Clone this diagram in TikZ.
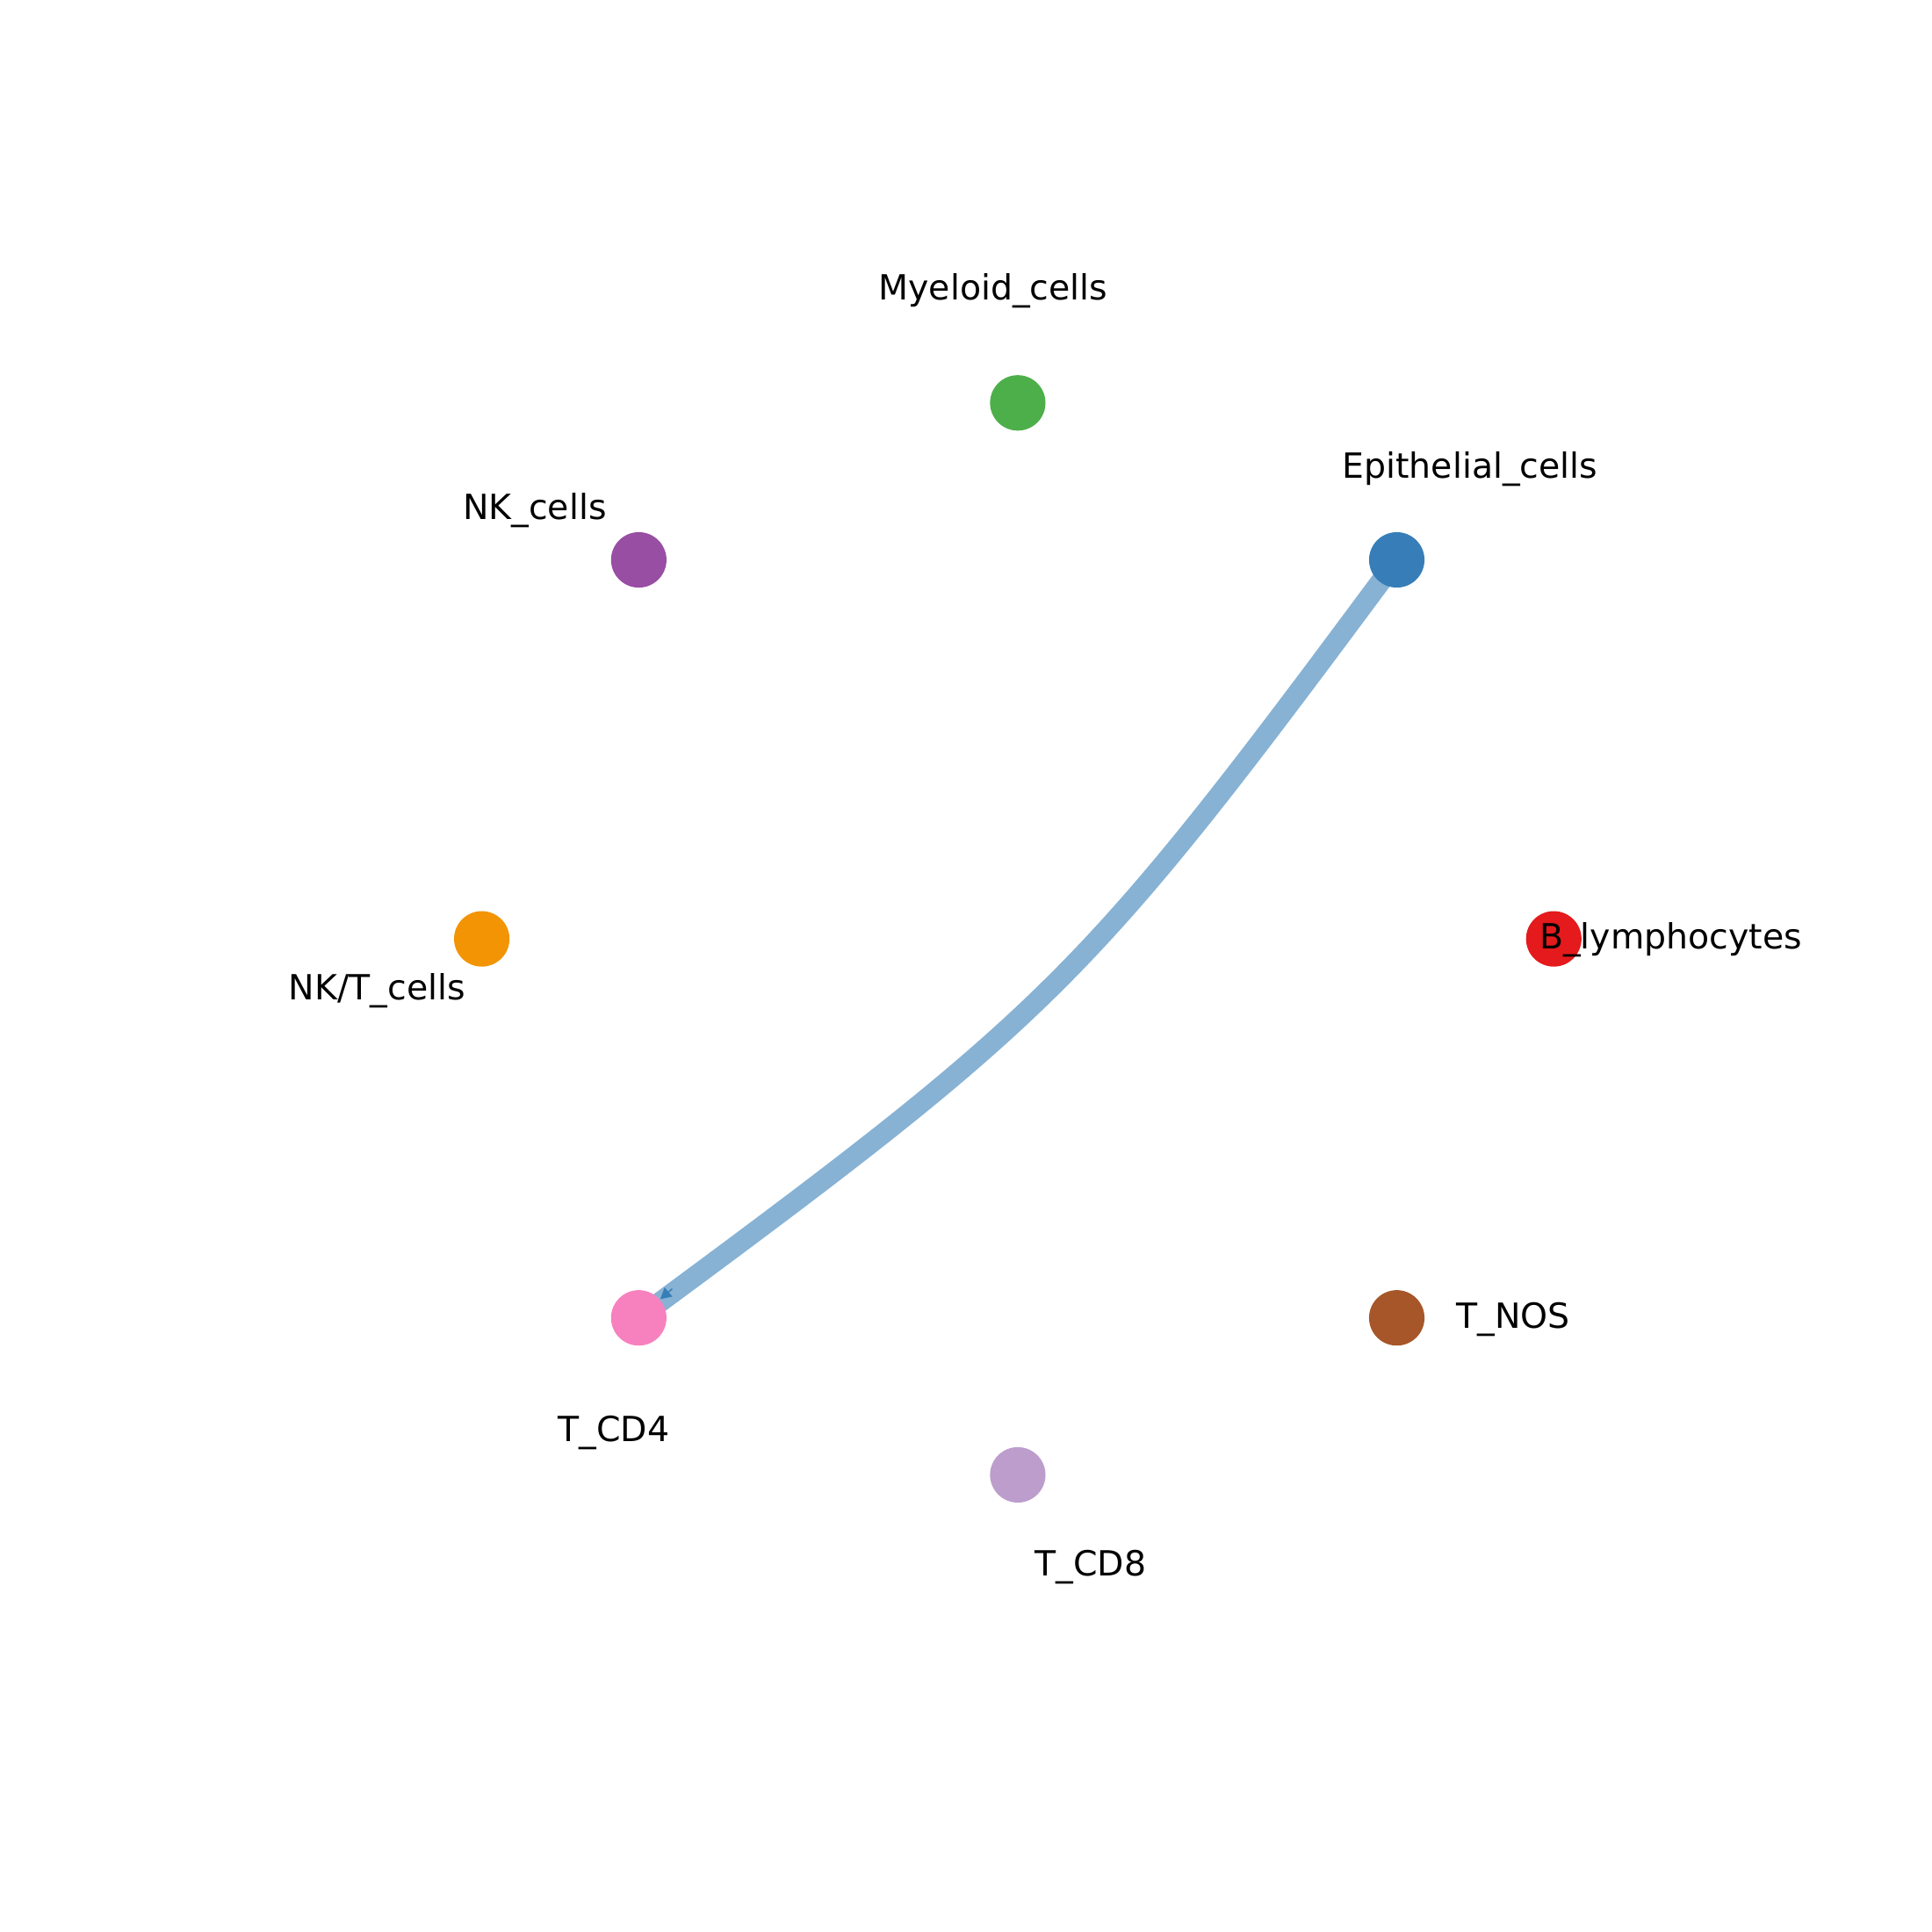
\documentclass[tikz,border=0pt]{standalone}
\usepackage{fontspec}
\setmainfont{DejaVu Sans}
\usetikzlibrary{arrows.meta,calc}
\definecolor{Blym}{HTML}{E41A1C}
\definecolor{Epi}{HTML}{377EB8}
\definecolor{Myel}{HTML}{4DAF4A}
\definecolor{NKc}{HTML}{984EA3}
\definecolor{NKT}{HTML}{F29403}
\definecolor{TNOS}{HTML}{A65628}
\definecolor{TCDf}{HTML}{F781BF}
\definecolor{TCDe}{HTML}{BC9DCC}
\pgfdeclarelayer{bg}
\pgfsetlayers{bg,main}

\begin{document}
\begin{tikzpicture}[
    cell/.style={circle,fill=#1,minimum size=0.45cm,inner sep=0pt},
    lab/.style={font=\fontsize{8}{9.6}\selectfont,inner sep=0pt},
    flow/.style={draw=Epi!60!white,line width=4.7pt}]
  \useasboundingbox (0,0) rectangle (15.68,15.68);
  \coordinate (o) at (8.26,8.06);
  % cell groups round the circle
  \node[cell=Blym] (blym) at ($(o)+(0:4.35)$) {};
  \node[cell=Epi]  (epi)  at ($(o)+(45:4.35)$) {};
  \node[cell=Myel] (myel) at ($(o)+(90:4.35)$) {};
  \node[cell=NKc]  (nk)   at ($(o)+(135:4.35)$) {};
  \node[cell=NKT]  (nkt)  at ($(o)+(180:4.35)$) {};
  \node[cell=TCDf] (cd4)  at ($(o)+(225:4.35)$) {};
  \node[cell=TCDe] (cd8)  at ($(o)+(270:4.35)$) {};
  \node[cell=TNOS] (tnos) at ($(o)+(315:4.35)$) {};
  % labels
  \node[lab] (blym-lab) at (13.56,8.05) {B\_lymphocytes};
  \node[lab] (epi-lab)  at (11.93,11.87) {Epithelial\_cells};
  \node[lab] (myel-lab) at (8.06,13.32) {Myeloid\_cells};
  \node[lab] (nk-lab)   at (4.34,11.54) {NK\_cells};
  \node[lab] (nkt-lab)  at (3.06,7.64) {NK/T\_cells};
  \node[lab] (cd4-lab)  at (4.98,4.05) {T\_CD4};
  \node[lab] (cd8-lab)  at (8.85,2.96) {T\_CD8};
  \node[lab] (tnos-lab) at (12.28,4.97) {T\_NOS};
  % signalling edge, kept under the dots
  \begin{pgfonlayer}{bg}
    \draw[flow] (epi.center) .. controls (8.82,7.74) and (8.58,7.49) .. (cd4.center);
  \end{pgfonlayer}
  \draw[Epi,line width=0.3pt,-{Triangle[length=2.5pt,width=2.7pt]}]
    ($(cd4)+(41:0.36)$) -- (cd4);
\end{tikzpicture}
\end{document}
